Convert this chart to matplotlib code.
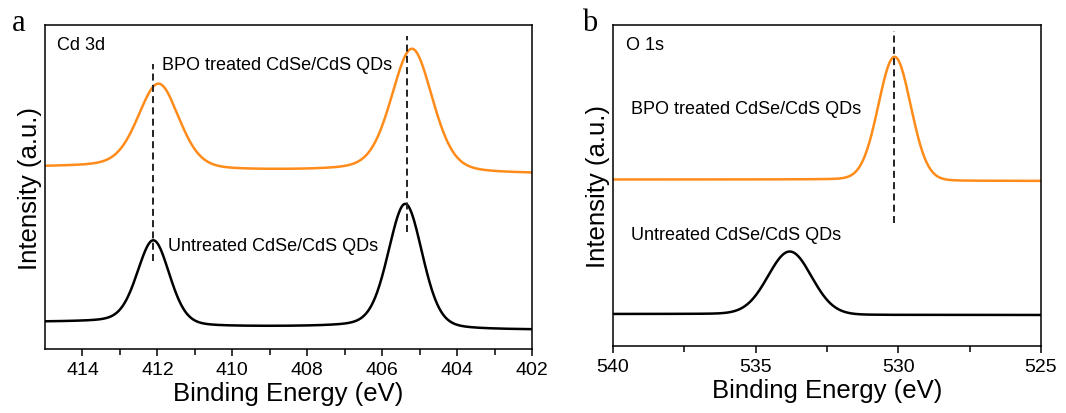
import numpy as np
import matplotlib
matplotlib.use("Agg")
import matplotlib.pyplot as plt
from math import erf

plt.rcParams['font.family'] = ['Liberation Sans', 'DejaVu Sans']

# ---- Cd 3d region: fitted peak parameters (binding energy, eV) ----
cd_centers_untreated = [412.10, 405.38]
cd_heights_untreated = [84.0, 124.5]
cd_fwhm_untreated = [1.02, 1.08]
cd_baseline_untreated = [27.0, 22.0, 19.0]   # high-BE side, between peaks, low-BE side

cd_centers_bpo = [411.96, 405.20]
cd_heights_bpo = [85.0, 123.5]
cd_fwhm_bpo = [1.30, 1.30]
cd_baseline_bpo = [182.0, 178.0, 175.0]

cd_guides = [412.12, 405.35]
cd_guide_spans = [(88.0, 285.0), (117.0, 313.0)]

# ---- O 1s region ----
o_center_untreated = 533.80
o_height_untreated = 63.0
o_fwhm_untreated = 1.80
o_baseline_untreated = [32.0, 31.0]

o_center_bpo = 530.13
o_height_bpo = 123.5
o_fwhm_bpo = 1.34
o_baseline_bpo = [166.5, 165.0]

o_guide = 530.15
o_guide_span = (123.0, 315.0)

cd_ticks = [414, 412, 410, 408, 406, 404, 402]
o_ticks = [540, 535, 530, 525]

ORANGE = '#ff8c1a'
BLACK = '#000000'
DASHES = (3.6, 2.2)


def pseudo_voigt(x, c, h, w, eta):
    d = (x - c) / w
    lor = 1.0 / (1.0 + 4.0 * d ** 2)
    gau = np.exp(-4.0 * np.log(2) * d ** 2)
    return h * (eta * lor + (1 - eta) * gau)


def step(x, c, s):
    return 0.5 * (1 + np.vectorize(erf)((x - c) / s))


def cd_curve(x, centers, heights, widths, base, eta):
    hi, mid, lo = base
    y = lo + (mid - lo) * step(x, centers[1], 0.6) + (hi - mid) * step(x, centers[0], 0.6)
    for c, h, w in zip(centers, heights, widths):
        y = y + pseudo_voigt(x, c, h, w, eta)
    return y


def o_curve(x, c, h, w, base, eta):
    hi, lo = base
    return lo + (hi - lo) * step(x, c, 0.8) + pseudo_voigt(x, c, h, w, eta)


fig = plt.figure(figsize=(10.66, 4.14), dpi=100)
ax1 = fig.add_axes([45 / 1066, 64 / 414, 487 / 1066, 324 / 414])
ax2 = fig.add_axes([613 / 1066, 67 / 414, 428 / 1066, 321 / 414])

x_cd = np.linspace(402, 415, 1500)
ax1.plot(x_cd, cd_curve(x_cd, cd_centers_bpo, cd_heights_bpo, cd_fwhm_bpo, cd_baseline_bpo, 0.3),
         color=ORANGE, lw=1.8)
ax1.plot(x_cd, cd_curve(x_cd, cd_centers_untreated, cd_heights_untreated, cd_fwhm_untreated,
                        cd_baseline_untreated, 0.25),
         color=BLACK, lw=1.8)
for gx, (y0, y1) in zip(cd_guides, cd_guide_spans):
    ax1.plot([gx, gx], [y0, y1], color='#222222', lw=1.4, dashes=DASHES)

ax1.set_xlim(415, 402)
ax1.set_ylim(0, 324)
ax1.set_xticks(cd_ticks)
ax1.set_xticks(np.arange(403, 415, 2), minor=True)
ax1.text(414.68, 305, 'Cd 3d', fontsize=13, va='center', ha='left')
ax1.text(411.88, 285, 'BPO treated CdSe/CdS QDs', fontsize=13, va='center', ha='left')
ax1.text(411.72, 103.5, 'Untreated CdSe/CdS QDs', fontsize=13, va='center', ha='left')

x_o = np.linspace(525, 540, 1500)
ax2.plot(x_o, o_curve(x_o, o_center_bpo, o_height_bpo, o_fwhm_bpo, o_baseline_bpo, 0.05),
         color=ORANGE, lw=1.8)
ax2.plot(x_o, o_curve(x_o, o_center_untreated, o_height_untreated, o_fwhm_untreated,
                      o_baseline_untreated, 0.05),
         color=BLACK, lw=1.8)
ax2.plot([o_guide, o_guide], list(o_guide_span), color='#222222', lw=1.4, dashes=DASHES)

ax2.set_xlim(540, 525)
ax2.set_ylim(0, 321)
ax2.set_xticks(o_ticks)
ax2.set_xticks([537.5, 532.5, 527.5], minor=True)
ax2.text(539.55, 302, 'O 1s', fontsize=13, va='center', ha='left')
ax2.text(539.37, 237, 'BPO treated CdSe/CdS QDs', fontsize=13, va='center', ha='left')
ax2.text(539.37, 111.5, 'Untreated CdSe/CdS QDs', fontsize=13, va='center', ha='left')

for ax in (ax1, ax2):
    ax.set_yticks([])
    ax.tick_params(axis='x', which='major', direction='out', length=5, width=1.1,
                   labelsize=14, pad=4)
    ax.tick_params(axis='x', which='minor', direction='out', length=4, width=1.1)
    for sp in ax.spines.values():
        sp.set_linewidth(1.1)
    ax.set_xlabel('Binding Energy (eV)', fontsize=18.5, labelpad=2)
    ax.set_ylabel('Intensity (a.u.)', fontsize=18.5, labelpad=2)

fig.text(12 / 1066, 1 - 31 / 414, 'a', fontsize=22, family=['Liberation Serif', 'DejaVu Serif'])
fig.text(582 / 1066, 1 - 31 / 414, 'b', fontsize=22, family=['Liberation Serif', 'DejaVu Serif'])

fig.savefig('out.png', dpi=100)
